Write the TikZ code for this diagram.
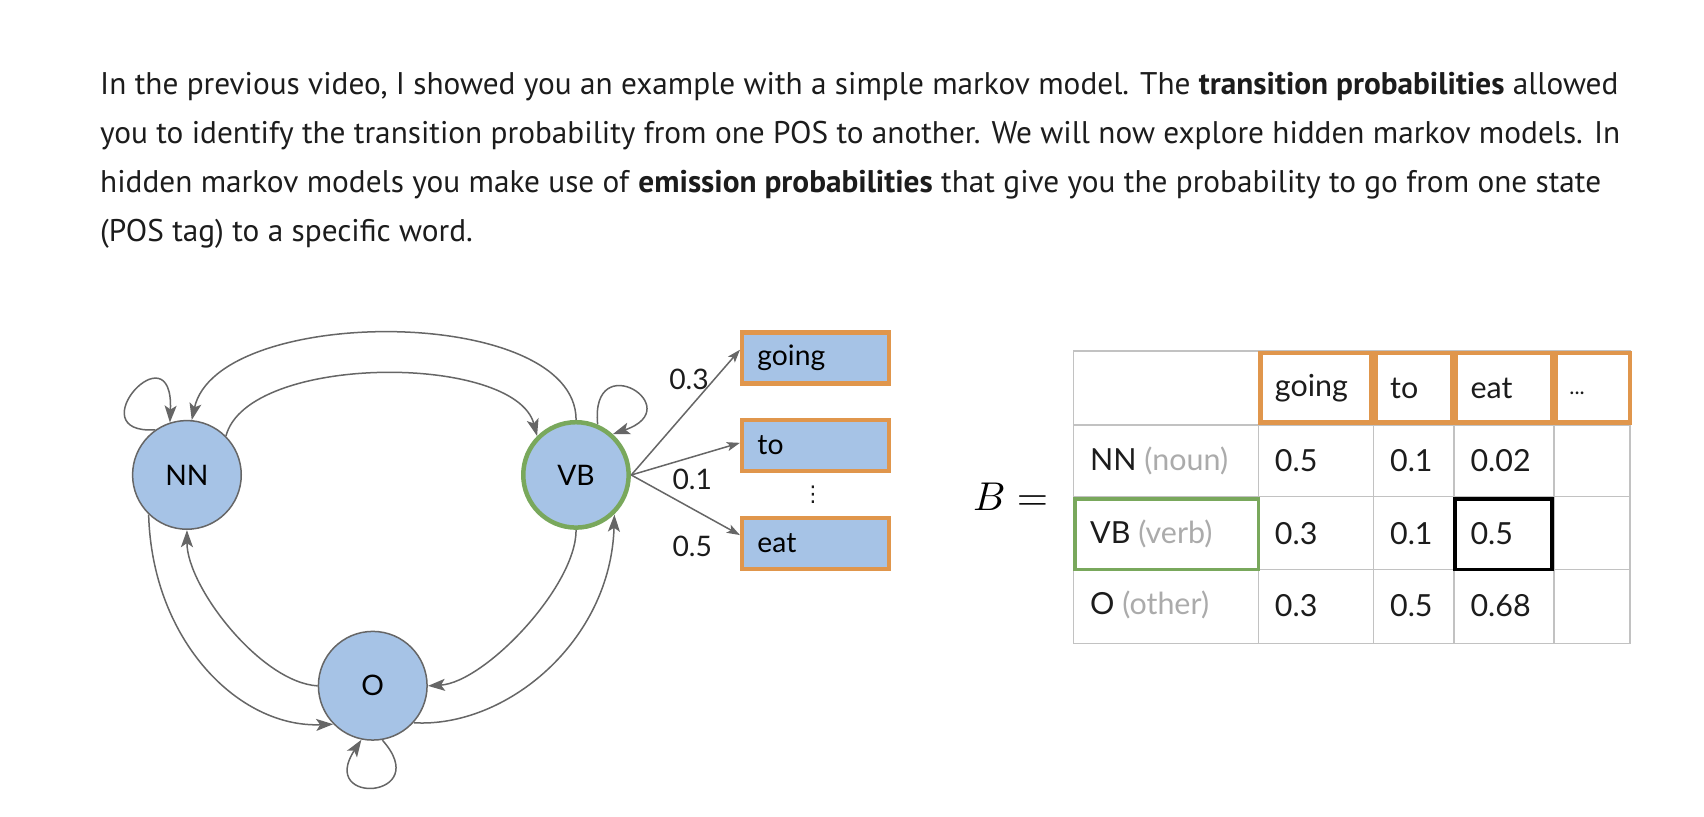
\documentclass[tikz,border=0pt]{standalone}
\usepackage{graphicx}
\usepackage{fontspec}
\setmainfont{PT Sans}
\newfontfamily\lato{Lato}
\newfontfamily\dejavu{DejaVu Sans}
\usetikzlibrary{arrows.meta,calc}
\definecolor{stfill}{HTML}{A6C3E6}
\definecolor{edge}{HTML}{666666}
\definecolor{vbgreen}{HTML}{79A85C}
\definecolor{orng}{HTML}{E0964C}
\definecolor{txt}{HTML}{1C1C1C}
\definecolor{lgray}{HTML}{ABABAB}
\definecolor{grid}{HTML}{C2C2C2}
\begin{document}
\begin{tikzpicture}[x=1pt,y=-1pt,scale=1.0867,every node/.append style={transform shape},
  para/.style={anchor=base west,text=txt,inner sep=0pt,font=\fontsize{28.8}{34}\selectfont},
  state/.style={circle,minimum size=100pt,inner sep=0pt,fill=stfill,draw=edge,line width=1.5pt,font=\lato\fontsize{26}{30}\selectfont},
  arr/.style={draw=edge,line width=1.5pt,-{Stealth[length=17pt,width=12pt,inset=4pt]}},
  earr/.style={draw=edge,line width=1.5pt,-{Stealth[length=13pt,width=9pt,inset=3pt]}},
  wordbox/.style={rectangle,minimum width=135pt,minimum height=47pt,fill=stfill,draw=orng,line width=4.5pt,font=\lato\fontsize{26}{30}\selectfont,text width=107pt,align=left,inner sep=0pt},
  lbl/.style={font=\lato\fontsize{26}{30}\selectfont,inner sep=0pt,text=txt},
  cell/.style={anchor=west,font=\lato\fontsize{28}{32}\selectfont,inner sep=0pt,text=txt},
  hbox/.style={draw=orng,line width=4.5pt},
]
\useasboundingbox[fill=white] (0,0) rectangle (1568,751);

% paragraph
\node[para] (p1) at (92,87) {In the previous video, I showed you an example with a simple markov model. The \textbf{transition probabilities} allowed};
\node[para] (p2) at (92,132) {you to identify the transition probability from one POS to another. We will now explore hidden markov models. In};
\node[para] (p3) at (92,177) {hidden markov models you make use of \textbf{emission probabilities} that give you the probability to go from one state};
\node[para] (p4) at (92,222) {(POS tag) to a specific word.};

% states
\node[state] (NN) at (172,437) {NN};
\node[state,draw=vbgreen,line width=4.5pt,minimum size=97pt] (VB) at (530,437) {VB};
\node[state] (O) at (343,631) {O};

% transitions
\draw[arr] (VB.90) .. controls (530,280) and (200,280) .. (NN.85);
\draw[arr] (NN.45) .. controls (228,325) and (474,325) .. (VB.135);
\draw[arr] (NN.226) .. controls (140,590) and (220,670) .. (O.224);
\draw[arr] (O.180) .. controls (240,628) and (172,540) .. (NN.270);
\draw[arr] (VB.270) .. controls (530,540) and (446,628) .. (O.0);
\draw[arr] (O.318) .. controls (466,670) and (562,590) .. (VB.314);
% self loops
\draw[arr] (NN.125) .. controls (70,400) and (160,300) .. (NN.108);
\draw[arr] (VB.67) .. controls (543,318) and (635,375) .. (VB.48);
\draw[arr] (O.280) .. controls (400,735) and (292,742) .. (O.258);

% emissions
\node[wordbox] (going) at (750.5,329.5) {going};
\node[wordbox] (to) at (750.5,410) {to};
\node[wordbox] (eat) at (750.5,500) {eat};
\draw[earr] (VB.east) -- ($(going.north west)!0.35!(going.south west)$);
\draw[earr] (VB.east) -- ($(to.north west)!0.45!(to.south west)$);
\draw[earr] (VB.east) -- ($(eat.north west)!0.35!(eat.south west)$);
\node[lbl] (l3) at (634,349) {0.3};
\node[lbl] (l1) at (637,441) {0.1};
\node[lbl] (l5) at (637,503) {0.5};
\node[inner sep=0pt,font=\dejavu\fontsize{20}{22}\selectfont,text=txt] (dots) at (748,455) {⋮};

% B =
\node[inner sep=0pt] (Beq) at (930,457) {\scalebox{3.7}{$B=$}};

% table grid
\draw[grid,line width=1.5pt] (988,323) rectangle (1500,592);
\foreach \yy in {391,457,524} \draw[grid,line width=1.5pt] (988,\yy) -- (1500,\yy);
\foreach \xx in {1158,1264,1338,1430} \draw[grid,line width=1.5pt] (\xx,323) -- (\xx,592);
% header orange boxes
\draw[hbox] (1160,325) rectangle (1262,389);
\draw[hbox] (1266,325) rectangle (1336,389);
\draw[hbox] (1340,325) rectangle (1428,389);
\draw[hbox] (1432,325) rectangle (1500,389);
% highlight boxes
\draw[vbgreen,line width=3.8pt] (989,459) rectangle (1158,524);
\draw[black,line width=3.8pt] (1339,459) rectangle (1428,524);

% header texts
\node[cell] (hgoing) at (1173,357) {going};
\node[cell] (hto) at (1279,357) {to};
\node[cell] (heat) at (1353,357) {eat};
\node[cell,font=\lato\fontsize{20}{24}\selectfont] (hdots) at (1444,362) {...};
% row labels
\node[cell] (rNN) at (1003,424) {NN \textcolor{lgray}{(noun)}};
\node[cell] (rVB) at (1003,491) {VB \textcolor{lgray}{(verb)}};
\node[cell] (rO) at (1003,557) {O \textcolor{lgray}{(other)}};
% values
\node[cell] (v11) at (1173,424) {0.5};
\node[cell] (v12) at (1279,424) {0.1};
\node[cell] (v13) at (1353,424) {0.02};
\node[cell] (v21) at (1173,491) {0.3};
\node[cell] (v22) at (1279,491) {0.1};
\node[cell] (v23) at (1353,491) {0.5};
\node[cell] (v31) at (1173,557) {0.3};
\node[cell] (v32) at (1279,557) {0.5};
\node[cell] (v33) at (1353,557) {0.68};
\end{tikzpicture}
\end{document}
